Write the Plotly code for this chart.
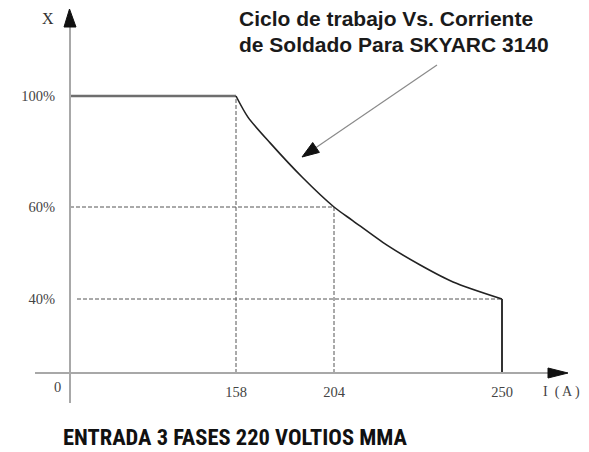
import numpy as np
import plotly.graph_objects as go

# ---------------- data ----------------
current_ticks = [158, 204, 250]
current_tick_labels = ["158", "204", "250"]
duty_ticks = [40, 60, 100]
duty_tick_labels = ["40%", "60%", "100%"]

flat_current = [0, 158]
flat_duty = [100, 100]
curve_current = [158, 163.6, 174, 189, 204, 209.2, 218.5, 227.6, 236.6, 250]
curve_duty = [100, 92.4, 83.1, 70.8, 60, 57.0, 51.7, 47.4, 43.7, 40]
drop_current = [250, 250]
drop_duty = [40, 0]

title_lines = ["Ciclo de trabajo Vs. Corriente", "de Soldado Para SKYARC 3140"]
footer = "ENTRADA 3 FASES 220 VOLTIOS MMA"

# ---------------- schematic (non-linear) axis scales ----------------
X_BREAKS, X_POS = [0, 158, 204, 250], [0, 166, 264, 432]
Y_BREAKS, Y_POS = [0, 40, 60, 100], [0, 74, 166, 277]


def sx(v):
    return np.interp(v, X_BREAKS, X_POS)


def sy(v):
    return np.interp(v, Y_BREAKS, Y_POS)


# the page body has an 8px margin, so the figure is sized to the remaining area
W, H = 581, 444
X_RANGE = [-62, 519]
Y_RANGE = [-79, 365]

fig = go.Figure()

dash_style = dict(color="#555555", width=1, dash="4px,2px")
# guide (dashed) lines
fig.add_trace(go.Scatter(x=sx([158, 158]), y=sy([0, 100]), mode="lines", line=dash_style))
fig.add_trace(go.Scatter(x=sx([204, 204]), y=sy([0, 60]), mode="lines", line=dash_style))
fig.add_trace(go.Scatter(x=sx([0, 204]), y=sy([60, 60]), mode="lines", line=dash_style))
fig.add_trace(go.Scatter(x=sx([0, 250]) + np.array([7, 0]), y=sy([40, 40]), mode="lines", line=dash_style))

# duty-cycle curve
fig.add_trace(go.Scatter(x=sx(flat_current), y=sy(flat_duty), mode="lines",
                         line=dict(color="#6e6e6e", width=2.5)))
fig.add_trace(go.Scatter(x=sx(curve_current), y=sy(curve_duty), mode="lines",
                         line=dict(color="#222222", width=1.6, shape="spline", smoothing=0.8)))
fig.add_trace(go.Scatter(x=sx(drop_current), y=sy(drop_duty), mode="lines",
                         line=dict(color="#333333", width=2)))

shapes = []
axis_col = "#a8a8a8"
# axes lines
shapes.append(dict(type="line", xref="x", yref="y", x0=-35, x1=478, y0=0, y1=0,
                   line=dict(color=axis_col, width=2)))
shapes.append(dict(type="line", xref="x", yref="y", x0=0, x1=0, y0=-30, y1=348,
                   line=dict(color=axis_col, width=2)))
# arrow heads of axes
shapes.append(dict(type="path", xref="x", yref="y", path="M -6,346 L 6,346 L -0.5,364 Z",
                   fillcolor="#111111", line=dict(color="#111111", width=1)))
shapes.append(dict(type="path", xref="x", yref="y", path="M 478,-5 L 478,5 L 498,0 Z",
                   fillcolor="#111111", line=dict(color="#111111", width=1)))

# pointer arrow to the curve
p0 = np.array([367.0, 308.0])
p1 = np.array([232.0, 216.0])
u = (p1 - p0) / np.linalg.norm(p1 - p0)
n = np.array([-u[1], u[0]])
base = p1 - 17 * u
b1 = base + 6 * n
b2 = base - 6 * n
shapes.append(dict(type="line", xref="x", yref="y", x0=p0[0], y0=p0[1], x1=base[0], y1=base[1],
                   line=dict(color="#8a8a8a", width=1.2)))
shapes.append(dict(type="path", xref="x", yref="y",
                   path=f"M {p1[0]:.1f},{p1[1]:.1f} L {b1[0]:.1f},{b1[1]:.1f} L {b2[0]:.1f},{b2[1]:.1f} Z",
                   fillcolor="#111111", line=dict(color="#111111", width=1)))

serif = "Liberation Serif"
tick_font = dict(family=serif, size=14.5, color="#444444")

annotations = [
    dict(x=-22, y=355, xref="x", yref="y", text="X", showarrow=False,
         font=dict(family=serif, size=16, color="#333333")),
    dict(x=-13, y=-14, xref="x", yref="y", text="0", showarrow=False, font=tick_font),
    dict(x=491, y=-19, xref="x", yref="y", text="I  ( A )", showarrow=False,
         font=dict(family=serif, size=14, color="#444444")),
    dict(x=167, y=355, xref="x", yref="y", text="<b>" + title_lines[0] + "</b>", showarrow=False,
         xanchor="left", font=dict(family="Liberation Sans", size=21, color="#1a1a1a")),
    dict(x=167, y=329, xref="x", yref="y", text="<b>" + title_lines[1] + "</b>", showarrow=False,
         xanchor="left", font=dict(family="Liberation Sans", size=21, color="#1a1a1a")),
    dict(x=-9, y=-64, xref="x", yref="y", text="<b>" + footer + "</b>", showarrow=False,
         xanchor="left", font=dict(family="Roboto Condensed, DejaVu Sans Condensed", size=22.5, color="#111111")),
]

fig.update_layout(
    width=W, height=H,
    margin=dict(l=0, r=0, t=0, b=0, autoexpand=False),
    paper_bgcolor="white", plot_bgcolor="white",
    showlegend=False,
    shapes=shapes,
    annotations=annotations,
    xaxis=dict(range=X_RANGE, showgrid=False, zeroline=False, showline=False,
               anchor="free", position=(0 - Y_RANGE[0]) / (Y_RANGE[1] - Y_RANGE[0]),
               automargin=False,
               tickvals=sx(current_ticks), ticktext=current_tick_labels,
               ticks="outside", ticklen=6, tickcolor="rgba(0,0,0,0)",
               tickfont=tick_font, fixedrange=True),
    yaxis=dict(range=Y_RANGE, showgrid=False, zeroline=False, showline=False,
               anchor="free", position=(0 - X_RANGE[0]) / (X_RANGE[1] - X_RANGE[0]),
               automargin=False,
               tickvals=sy(duty_ticks), ticktext=duty_tick_labels,
               ticks="outside", ticklen=12, tickcolor="rgba(0,0,0,0)",
               tickfont=tick_font, fixedrange=True),
)

fig.write_html("out.html")
